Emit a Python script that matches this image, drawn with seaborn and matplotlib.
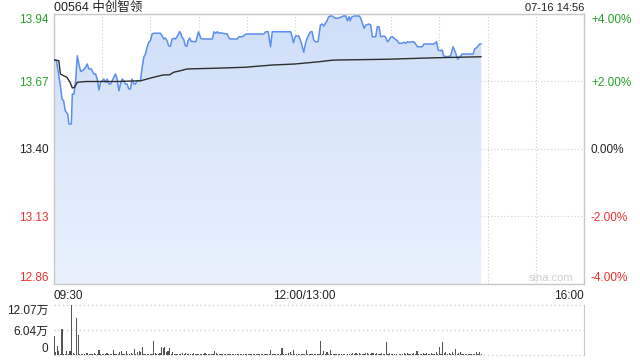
import numpy as np
import pandas as pd
import matplotlib
matplotlib.use("Agg")
import matplotlib.pyplot as plt
from matplotlib.colors import LinearSegmentedColormap
from matplotlib.transforms import ScaledTranslation
import seaborn as sns

# ---------------- data ----------------
title = "00564 中创智领"
stamp = "07-16 14:56"
prev_close = 13.40

price_ticks = [12.86, 13.13, 13.40, 13.67, 13.94]
price_labels = ["12.86", "13.13", "13.40", "13.67", "13.94"]
pct_labels = ["-4.00%", "-2.00%", "0.00%", "+2.00%", "+4.00%"]
x_ticks = [0, 150, 330]
x_labels = ["09:30", "12:00/13:00", "16:00"]
vol_ticks = [0, 6.04, 12.07]
vol_labels = ["0", "6.04万", "12.07万"]

# minutes after 09:30 (lunch break removed) and last price
price_t = [0, 1.5, 3, 4, 5, 6, 7, 8.5, 9.3, 10.8, 11.4, 12.4, 13.5, 14.5, 15.5, 16.6, 18.2, 19.7,
           20.7, 21.7, 23.2, 24.8, 25.9, 26.9, 28.0, 29.0, 30.0, 31.0, 32.1, 33.1, 34.2, 35.2,
           36.2, 37.3, 38.3, 39.3, 40.4, 41.4, 42.4, 43.5, 44.5, 45.5, 46.6, 47.6, 48.6, 49.7,
           50.7, 51.7, 53.8, 54.9, 55.9, 56.9, 58.0, 59.0, 60.0, 61.1, 62.1, 66.2, 67.3, 68.3,
           69.3, 70.4, 71.4, 72.5, 73.5, 74.5, 75.6, 76.6, 77.6, 78.2, 79.1, 79.7, 80.7, 81.8,
           82.8, 83.4, 84.5, 85.3, 87.0, 88.3, 90.0, 91.4, 92.4, 98.6, 99.6, 100.7, 101.7, 102.7,
           103.8, 104.8, 107.9, 109.0, 110.0, 114.1, 115.2, 117.2, 119.3, 120.3, 130.7, 131.7,
           133.4, 134.8, 135.9, 147.3, 148.3, 149.0, 150.4, 152.4, 154.1, 155.5, 156.6, 157.6,
           158.6, 159.7, 160.7, 161.7, 162.8, 164.4, 165.9, 166.9, 168.0, 169.0, 170.0, 171.0,
           172.1, 173.1, 174.2, 175.2, 176.5, 178.6, 180.2, 181.7, 182.7, 183.7, 184.4, 185.2,
           186.9, 190.0, 191.0, 192.0, 193.1, 194.1, 196.2, 197.2, 198.2, 200.3, 201.3, 202.4,
           203.4, 205.5, 206.5, 207.6, 208.6, 209.6, 210.7, 211.7, 213.8, 214.8, 216.9, 217.9,
           219.0, 220.0, 221.0, 223.1, 224.1, 225.2, 226.2, 229.3, 230.3, 233.4, 236.5, 238.2,
           239.2, 240.7, 241.7, 242.7, 244.8, 246.9, 248.5, 250.0, 251.4, 252.7, 254.1, 257.2,
           261.0, 261.8, 263.4, 265.1, 266]
price_v = [13.757, 13.753, 13.693, 13.653, 13.600, 13.593, 13.553, 13.540, 13.500, 13.500, 13.620,
           13.620, 13.673, 13.773, 13.740, 13.710, 13.716, 13.727, 13.740, 13.720, 13.720, 13.700,
           13.700, 13.680, 13.636, 13.667, 13.673, 13.680, 13.667, 13.680, 13.660, 13.660, 13.673,
           13.687, 13.700, 13.680, 13.633, 13.660, 13.680, 13.673, 13.660, 13.660, 13.640, 13.640,
           13.680, 13.660, 13.660, 13.673, 13.673, 13.727, 13.767, 13.780, 13.807, 13.827, 13.833,
           13.860, 13.863, 13.863, 13.853, 13.840, 13.844, 13.833, 13.813, 13.811, 13.840, 13.843,
           13.840, 13.849, 13.860, 13.870, 13.860, 13.847, 13.840, 13.813, 13.811, 13.833, 13.844,
           13.831, 13.830, 13.829, 13.869, 13.843, 13.840, 13.840, 13.869, 13.863, 13.869, 13.863,
           13.865, 13.863, 13.860, 13.843, 13.840, 13.840, 13.849, 13.849, 13.859, 13.860, 13.860,
           13.869, 13.869, 13.809, 13.869, 13.869, 13.849, 13.825, 13.852, 13.852, 13.823, 13.787,
           13.823, 13.843, 13.856, 13.869, 13.869, 13.836, 13.829, 13.829, 13.896, 13.900, 13.892,
           13.903, 13.913, 13.929, 13.932, 13.932, 13.927, 13.923, 13.923, 13.927, 13.932, 13.932,
           13.913, 13.929, 13.913, 13.927, 13.932, 13.932, 13.923, 13.903, 13.883, 13.896, 13.900,
           13.896, 13.849, 13.849, 13.889, 13.889, 13.849, 13.852, 13.847, 13.829, 13.836, 13.847,
           13.849, 13.843, 13.833, 13.823, 13.823, 13.827, 13.823, 13.829, 13.827, 13.829, 13.829,
           13.820, 13.809, 13.809, 13.820, 13.820, 13.820, 13.829, 13.796, 13.793, 13.796, 13.772,
           13.769, 13.772, 13.809, 13.785, 13.759, 13.769, 13.780, 13.780, 13.780, 13.799, 13.807,
           13.820, 13.820]

avg_t = [0, 3, 4, 6, 8, 10, 11.4, 12.8, 14.5, 20, 40, 54, 58, 62, 66, 68, 72, 74.5, 78.6, 82.8,
         88, 100, 119, 136, 150, 165, 173, 176.5, 207.6, 238, 266]
avg_v = [13.757, 13.753, 13.700, 13.693, 13.687, 13.667, 13.644, 13.647, 13.667, 13.670, 13.670,
         13.673, 13.680, 13.687, 13.693, 13.696, 13.697, 13.707, 13.713, 13.720, 13.721, 13.723,
         13.727, 13.736, 13.740, 13.749, 13.755, 13.756, 13.759, 13.765, 13.769]

# volume per minute, in 万 shares
vol_v = [4.5, 0.8, 2.1, 0.9, 0.3, 6.3, 0.3, 0.2, 1.0, 0.3, 1.0, 12.07, 0.5, 0.3, 8.9, 4.9, 0.2, 0.3, 0.2, 0.2,
         0.5, 0.5, 0.3, 0.2, 0.3, 0.4, 0.2, 0.3, 1.2, 0.3, 0.2, 0.3, 0.2, 0.4, 0.3, 0.2, 0.3, 1.2, 0.3, 0.2,
         0.3, 0.7, 0.9, 0.3, 0.2, 1.0, 0.3, 0.2, 0.6, 0.3, 1.4, 0.3, 0.7, 0.9, 0.7, 2.0, 0.3, 0.2, 0.3, 0.2,
         0.3, 0.2, 3.5, 0.5, 0.2, 0.3, 0.6, 1.9, 1.6, 2.0, 0.8, 1.0, 1.6, 0.3, 0.8, 0.2, 0.3, 0.2, 0.3, 0.2,
         0.6, 0.3, 0.6, 0.2, 0.3, 0.2, 0.3, 0.4, 0.2, 0.3, 0.2, 0.3, 0.2, 0.3, 0.4, 0.2, 0.3, 0.2, 0.3, 0.2,
         1.0, 0.4, 0.3, 0.2, 0.3, 0.2, 0.3, 0.2, 0.2, 0.3, 0.2, 0.3, 0.2, 0.2, 0.3, 0.2, 0.3, 0.2, 0.2, 0.3,
         0.2, 0.3, 0.2, 0.2, 0.3, 0.2, 0.2, 0.3, 0.2, 0.3, 0.2, 0.2, 0.3, 0.2, 0.3, 1.3, 0.3, 0.2, 0.3, 0.2,
         0.3, 0.2, 1.6, 0.3, 0.2, 0.3, 0.4, 0.8, 0.2, 1.2, 0.3, 0.2, 0.3, 0.2, 0.3, 0.2, 0.3, 1.3, 0.3, 0.2,
         0.3, 0.2, 0.3, 0.2, 0.3, 0.2, 3.5, 0.3, 1.0, 0.2, 0.7, 0.3, 1.3, 0.3, 0.2, 0.3, 0.2, 0.3, 0.2, 0.2,
         0.3, 0.2, 0.1, 0.2, 0.3, 0.2, 0.4, 0.3, 0.5, 0.3, 0.6, 0.3, 0.2, 0.3, 0.4, 0.6, 0.3, 0.2, 0.4, 0.5,
         0.3, 0.4, 0.3, 0.2, 0.4, 0.3, 0.3, 3.2, 0.3, 0.5, 0.3, 0.2, 0.3, 0.2, 0.1, 0.2, 0.3, 0.2, 0.4, 0.2,
         0.6, 0.3, 0.2, 0.3, 0.4, 0.3, 1.0, 0.3, 0.2, 0.3, 0.4, 0.3, 0.6, 0.3, 0.2, 0.4, 0.3, 0.3, 0.7, 0.3,
         2.0, 0.3, 3.2, 0.4, 0.7, 0.3, 0.4, 0.3, 0.7, 0.3, 1.4, 0.3, 0.6, 0.7, 0.3, 0.2, 0.3, 0.2, 0.3, 0.2,
         0.3, 0.2, 0.3, 0.7, 0.2, 0.7, 0.3]
vol_t = list(range(len(vol_v)))

# ---------------- style ----------------
sns.set_style("white")
plt.rcParams["font.family"] = ["Liberation Sans", "Noto Sans CJK SC"]
GREEN = "#2ba12b"
RED = "#e8332f"
TXT = "#222222"
SPINE = "#c8c8c8"
GRID = "#cfcfcf"
DOT = (0, (1, 2))

fig = plt.figure(figsize=(6.4, 3.6), dpi=100)
ax = fig.add_axes([54 / 640, 1 - 284 / 360, 530 / 640, 270 / 360])
axv = fig.add_axes([54 / 640, 1 - 355 / 360, 530 / 640, 50 / 360])

ymin, ymax = price_ticks[0], price_ticks[-1]

# gradient area under price
poly = ax.fill_between(price_t, price_v, ymin, color="none", lw=0)
cmap = LinearSegmentedColormap.from_list("g", ["#e9f1fd", "#cfdff9"])
grad = np.linspace(0, 1, 256).reshape(-1, 1)
im = ax.imshow(grad, extent=[0, 330, ymin, ymax], origin="lower", aspect="auto",
               cmap=cmap, zorder=1)
im.set_clip_path(poly.get_paths()[0], transform=ax.transData)

df_p = pd.DataFrame({"t": price_t, "p": price_v})
df_a = pd.DataFrame({"t": avg_t, "a": avg_v})
sns.lineplot(data=df_p, x="t", y="p", ax=ax, color="#5b8fec", lw=1.1, zorder=3)
sns.lineplot(data=df_a, x="t", y="a", ax=ax, color="#2e2e2e", lw=1.0, zorder=4)

ax.set_xlim(0, 330)
ax.set_ylim(ymin, ymax)
ax.set_xlabel("")
ax.set_ylabel("")

ax.set_xticks(list(range(0, 331, 30)), minor=True)
ax.set_xticks(x_ticks)
ax.set_xticklabels(x_labels)
ax.set_yticks(price_ticks)
ax.set_yticklabels(price_labels)
ax.grid(True, which="both", axis="x", color=GRID, lw=0.8, linestyle=DOT)
ax.grid(True, which="major", axis="y", color=GRID, lw=0.8, linestyle=DOT)
ax.tick_params(axis="both", which="both", length=0, labelsize=8.5, colors=TXT)
ax.tick_params(axis="x", pad=4)
ax.tick_params(axis="y", pad=4)
for s in ax.spines.values():
    s.set_color(SPINE)
    s.set_linewidth(1)

xl = ax.get_xticklabels()
xl[0].set_ha("left")
xl[1].set_ha("center")
xl[1].set_transform(xl[1].get_transform() + ScaledTranslation(9 / 100, 0, fig.dpi_scale_trans))
xl[2].set_ha("right")

def color_for(v):
    if abs(v - prev_close) < 1e-9:
        return TXT
    return GREEN if v > prev_close else RED

for lab, v in zip(ax.get_yticklabels(), price_ticks):
    lab.set_color(color_for(v))
ax.get_yticklabels()[0].set_va("bottom")
ax.get_yticklabels()[-1].set_va("top")

ax2 = ax.twinx()
ax2.set_ylim(ymin, ymax)
ax2.set_yticks(price_ticks)
ax2.set_yticklabels(pct_labels)
ax2.tick_params(axis="y", length=0, labelsize=8.5, pad=5)
for lab, v in zip(ax2.get_yticklabels(), price_ticks):
    lab.set_color(color_for(v))
ax2.get_yticklabels()[0].set_va("bottom")
ax2.get_yticklabels()[-1].set_va("top")
for s in ax2.spines.values():
    s.set_visible(False)

ax.text(0.98, 0.004, "sina.com", transform=ax.transAxes, ha="right", va="bottom",
        fontsize=8, color="#cfcfcf", zorder=5)

# volume panel
sns.barplot(x=vol_t, y=vol_v, ax=axv, native_scale=True, color="#555555",
            saturation=1, width=0.7, linewidth=0, zorder=3)
axv.set_xlim(0, 330)
axv.set_ylim(0, vol_ticks[-1])
axv.set_xlabel("")
axv.set_ylabel("")
axv.set_xticks([])
axv.set_yticks(vol_ticks)
axv.set_yticklabels(vol_labels)
axv.tick_params(axis="y", length=0, labelsize=8.5, colors=TXT, pad=4)
axv.get_yticklabels()[0].set_va("bottom")
axv.get_yticklabels()[-1].set_va("top")
axv.grid(True, axis="y", color=GRID, lw=1.0, linestyle=DOT)
axv.grid(False, axis="x")
for k in ["left", "top", "bottom"]:
    axv.spines[k].set_visible(False)
axv.spines["right"].set_color(SPINE)
for gl in axv.get_ygridlines():
    gl.set_clip_on(False)

fig.text(54 / 640, 1 - 8 / 360, title, ha="left", va="center", fontsize=9, color=TXT)
fig.text(584 / 640, 1 - 8 / 360, stamp, ha="right", va="center", fontsize=8, color=TXT)

fig.savefig("out.png", dpi=100)
